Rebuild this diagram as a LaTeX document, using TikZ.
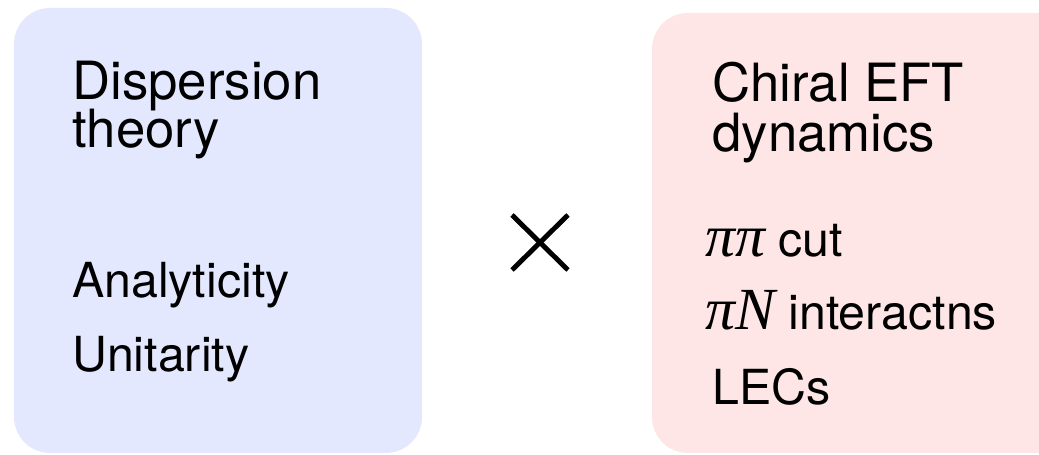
\documentclass[tikz,border=0pt]{standalone}
\usepackage{fontspec}
\setmainfont{TeX Gyre Heros}
\newfontfamily\symbolserif{Liberation Serif}
\definecolor{dispblue}{RGB}{228,232,255}
\definecolor{chiralpink}{RGB}{253,230,229}
\tikzset{
  panel/.style={rounded corners=0.72cm},
  headline/.style={anchor=base west, inner sep=0pt, font=\fontsize{30}{30}\selectfont},
  itemline/.style={anchor=base west, inner sep=0pt, font=\fontsize{27.5}{27.5}\selectfont},
}
\newcommand{\symit}[1]{{\fontsize{34}{34}\symbolserif\itshape #1}}

\begin{document}
\begin{tikzpicture}[x=0.02cm, y=-0.02cm]
		%%%%% START %%%%%
		
		\useasboundingbox (0, 0) rectangle (1039, 455);
		\clip (0, 0) rectangle (1039, 455);
		
		\fill[panel, dispblue] (14, 8) rectangle (422, 453);
		\fill[panel, chiralpink] (652, 13) rectangle (1080, 453);
		
		\node[headline] (disp1) at (72, 100) {Dispersion};
		\node[headline] (disp2) at (72, 148) {theory};
		\node[itemline] (analyt) at (72, 298) {Analyticity};
		\node[itemline] (unitar) at (72, 372) {Unitarity};
		
		\draw[line width=2.8pt] (512, 215) -- (568, 270);
		\draw[line width=2.8pt] (512, 270) -- (568, 215);
		
		\node[headline] (chiral1) at (712, 102) {Chiral EFT};
		\node[headline] (chiral2) at (712, 152) {dynamics};
		\node[itemline] (pipi) at (705, 257) {\symit{ππ} cut};
		\node[itemline] (pin) at (705, 330) {\symit{πN} interactns};
		\node[itemline] (lecs) at (712, 405) {LECs};
		
		%%%%% END %%%%%
	\end{tikzpicture}
\end{document}
